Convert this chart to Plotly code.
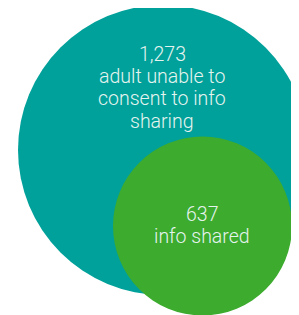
import plotly.graph_objects as go

# data
counts = [1273, 637]
labels = [["adult unable to", "consent to info", "sharing"], ["info shared"]]
colors = ["#00a19a", "#3cab2e"]

W, H = 299, 315
OFF = 8  # default page body margin
# layout geometry (pixel-like coordinates)
centers = [(163, 150), (202.5, 226)]
radii = [145, 89.5]
text_x = [162, 202]
text_y0 = [54, 214]
line_step = 22.4

fig = go.Figure()
fig.add_trace(go.Scatter(x=[OFF, W + OFF], y=[OFF, H + OFF], mode="markers",
                         marker=dict(opacity=0), hoverinfo="skip", showlegend=False))

for (cx, cy), r, c in zip(centers, radii, colors):
    fig.add_shape(type="circle", xref="x", yref="y",
                  x0=cx - r, x1=cx + r, y0=cy - r, y1=cy + r,
                  fillcolor=c, line=dict(width=0), layer="below")

for tx, ty0, n, lab in zip(text_x, text_y0, counts, labels):
    lines = [f"{n:,}"] + lab
    for i, t in enumerate(lines):
        fig.add_annotation(x=tx, y=ty0 + i * line_step, xref="x", yref="y",
                           text=t, showarrow=False,
                           xanchor="center", yanchor="middle", align="center",
                           font=dict(family="Roboto", size=19.5, color="#e6f4f0", weight=300))

fig.update_layout(
    width=W, height=H, margin=dict(l=0, r=0, t=0, b=0),
    paper_bgcolor="white", plot_bgcolor="white",
    xaxis=dict(range=[OFF, W + OFF], visible=False, fixedrange=True),
    yaxis=dict(range=[H + OFF, OFF], visible=False, fixedrange=True),
    showlegend=False,
)
fig.write_html("out.html")
